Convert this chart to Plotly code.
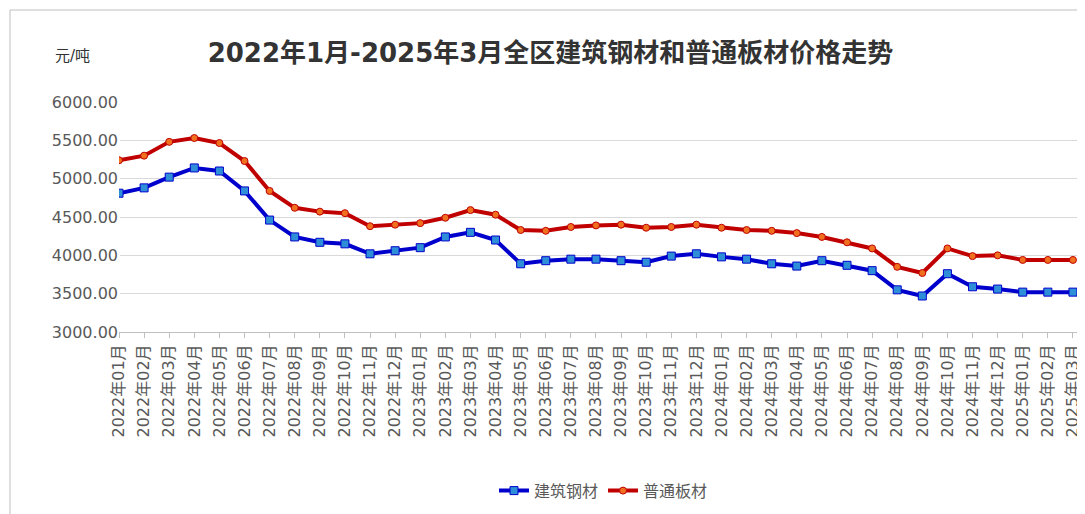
import plotly.graph_objects as go

months = []
for y in range(2022, 2026):
    for m in range(1, 13):
        if y == 2025 and m > 3:
            break
        months.append(f"{y}年{m:02d}月")

steel = [4810, 4880, 5020, 5140, 5100, 4840, 4460, 4240, 4170, 4150, 4020, 4060,
         4100, 4240, 4300, 4200, 3890, 3930, 3950, 3950, 3930, 3910, 3990, 4020,
         3980, 3950, 3890, 3860, 3930, 3870, 3800, 3550, 3470, 3760, 3590, 3560,
         3520, 3520, 3520]
plate = [5240, 5300, 5480, 5530, 5465, 5230, 4840, 4620, 4570, 4550, 4380, 4400,
         4420, 4490, 4590, 4530, 4330, 4320, 4370, 4390, 4400, 4360, 4370, 4400,
         4360, 4330, 4320, 4290, 4240, 4170, 4090, 3850, 3770, 4090, 3990, 4000,
         3940, 3940, 3940]

font = "DejaVu Sans, Noto Sans CJK SC"
fig = go.Figure()
fig.add_trace(go.Scatter(x=list(range(len(months))), y=steel, name="建筑钢材", mode="lines+markers",
                         line=dict(color="#0000CC", width=4),
                         marker=dict(symbol="square", size=8, color="#2E8FD8", line=dict(color="#0000CC", width=1))))
fig.add_trace(go.Scatter(x=list(range(len(months))), y=plate, name="普通板材", mode="lines+markers",
                         line=dict(color="#C00000", width=4),
                         marker=dict(symbol="circle", size=7, color="#F07020", line=dict(color="#C00000", width=1))))

fig.update_layout(
    width=1085, height=514, paper_bgcolor="white", plot_bgcolor="white",
    margin=dict(l=111, r=5, t=94, b=190, autoexpand=False),
    font=dict(family=font, size=16, color="#595959"),
    title=dict(text="<b>2022年1月-2025年3月全区建筑钢材和普通板材价格走势</b>", x=0.5, xanchor="center",
               y=0.912, yanchor="middle", font=dict(size=26, color="#333333")),
    legend=dict(orientation="h", x=0.5, xanchor="center", y=-0.69, yanchor="middle", font=dict(size=16)),
    annotations=[dict(text="元/吨", xref="paper", yref="paper", x=-0.068, y=1.2, yanchor="middle",
                      showarrow=False, font=dict(size=15, color="#333333"))],
    shapes=[dict(type="rect", xref="paper", yref="paper", x0=-0.1125, x1=1.002, y0=-0.81, y1=1.4,
                 line=dict(color="#BFBFBF", width=1))],
)
fig.update_xaxes(tickmode="array", tickvals=list(range(len(months))), ticktext=months, tickangle=-90,
                 range=[0, 38.6], showgrid=False, showline=True, linecolor="#BFBFBF", automargin=False,
                 ticks="outside", tickcolor="#BFBFBF", ticklen=5, tickfont=dict(size=16))
fig.update_yaxes(range=[3000, 6000], dtick=500, tickformat=".2f", gridcolor="#D9D9D9", automargin=False,
                 zeroline=False, tickfont=dict(size=16))
fig.write_html("out.html")
